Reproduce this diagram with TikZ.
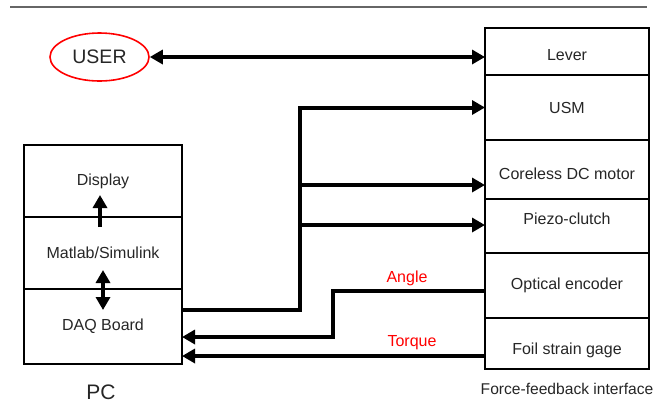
\documentclass[tikz,border=0pt]{standalone}
\usepackage{fontspec}
\setmainfont{Liberation Sans}
\usetikzlibrary{positioning,arrows.meta,shapes.geometric}

\tikzset{
  both/.style={{Triangle[length=6.5pt,width=7pt]}-{Triangle[length=6.5pt,width=7pt]}},
  tip/.style={-{Triangle[length=6.5pt,width=7pt]}}
}

\begin{document}
\begin{tikzpicture}[
x=0.5pt, y=-0.5pt,
node distance=0pt,
part/.style={draw, line width=0.8pt, minimum width=82pt, align=center, inner sep=0pt, outer sep=0pt, text=black!85, font=\fontsize{8}{9.6}\selectfont},
pcpart/.style={part, minimum width=79pt, minimum height=36pt},
wire/.style={line width=2pt},
sig/.style={text=red, font=\fontsize{8}{9.6}\selectfont}
]
\useasboundingbox (0,0) rectangle (656,403);
\draw[black!60, line width=0.6pt] (10,7) -- (647,7);

% user
\node[ellipse, draw=red, line width=0.8pt, minimum width=49.5pt, minimum height=24pt, inner sep=0pt, text=black!85, font=\fontsize{9.75}{11}\selectfont] (user) at (99.5,57) {USER};

% force-feedback interface
\node[part, minimum height=23.5pt, text height=8.7pt] (lever) at (567,51.5) {Lever};
\node[part, minimum height=32.5pt, below=of lever] (usm) {USM};
\node[part, minimum height=29.5pt, text height=9.8pt, below=of usm] (motor) {Coreless DC motor};
\node[part, minimum height=27pt, text depth=7.7pt, below=of motor] (clutch) {Piezo-clutch};
\node[part, minimum height=32.5pt, below=of clutch] (encoder) {Optical encoder};
\node[part, minimum height=25.5pt, text height=12.8pt, below=of encoder] (gage) {Foil strain gage};
\node[text=black!85, font=\fontsize{7.8}{9}\selectfont] (ffi) at (567,389) {Force-feedback interface};

% PC
\node[pcpart] (display) at (103,181) {Display};
\node[pcpart, below=of display] (matlab) {Matlab/Simulink};
\node[pcpart, minimum height=37.5pt, below=of matlab] (daq) {DAQ Board};
\node[text=black!85, font=\fontsize{10.5}{12}\selectfont] (pc) at (101,392) {PC};

\draw[wire, both] (user.east) -- (user.east -| lever.west);
\draw[wire, tip] ([xshift=-1.5pt, yshift=-5pt]matlab.north) -- ([xshift=-1.5pt, yshift=11pt]matlab.north);
\draw[wire, both] ([yshift=9.5pt]daq.north) -- ([yshift=-10.5pt]daq.north);

% outputs
\coordinate (bus) at (300,0);
\coordinate (tapM) at (300,185);
\coordinate (tapC) at (300,225);
\draw[wire, tip] ([yshift=8.25pt]daq.east) -| (bus |- usm.west) -- (usm.west);
\draw[wire, tip] (tapM) -- (tapM -| motor.west);
\draw[wire, tip] (tapC) -- (tapC -| clutch.west);

% inputs
\coordinate (jogA) at (333,291);
\coordinate (jogB) at (333,337);
\coordinate (tq) at (400,356);
\draw[wire, tip] (jogA -| encoder.west) -- (jogA) -- (jogB) -- (jogB -| daq.east);
\draw[wire, tip] (tq -| gage.west) -- (tq -| daq.east);
\node[sig] (angle) at (407,278) {Angle};
\node[sig] (torque) at (412,343) {Torque};
\end{tikzpicture}
\end{document}
